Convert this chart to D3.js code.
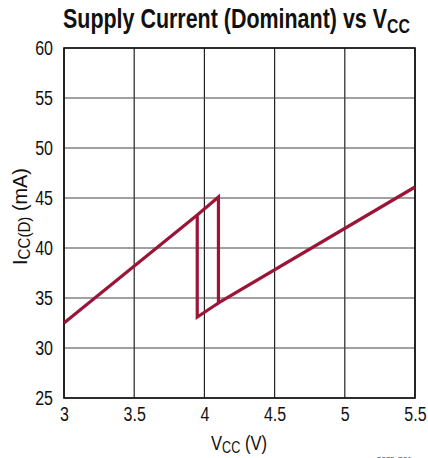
<!DOCTYPE html>
<html>
<head>
<meta charset="utf-8">
<script src="https://cdn.jsdelivr.net/npm/d3@7"></script>
<style>
  body { margin: 0; background: #fff; }
  svg { display: block; }
</style>
</head>
<body>
<script>
// rising sweep: upper branch, jump down at 4.1 V, then lower branch
const vUp = [3.0, 3.949, 4.10, 4.10, 5.5];
const iUp = [32.5, 43.3, 45.1, 34.5, 46.1];
// falling sweep back down: lower branch, jump up at 3.95 V
const vDown = [4.10, 3.949, 3.949];
const iDown = [34.5, 33.1, 43.3];

const xTicks = [3, 3.5, 4, 4.5, 5, 5.5];
const yTicks = [25, 30, 35, 40, 45, 50, 55, 60];

const width = 428;
const height = 458;
const margin = { top: 48, right: 13, bottom: 60, left: 64 };
const font = "'Liberation Sans', Arial, sans-serif";
const red = "#9b1538";
const squeeze = 0.8; // fake a narrow face

const x = d3.scaleLinear().domain([3, 5.5]).range([margin.left, width - margin.right]);
const y = d3.scaleLinear().domain([25, 60]).range([height - margin.bottom, margin.top]);

const svg = d3.select("body").append("svg")
    .attr("width", width)
    .attr("height", height)
    .style("font-family", font);

// grid
svg.append("g")
    .selectAll("line")
    .data(xTicks)
    .join("line")
    .attr("x1", d => x(d)).attr("x2", d => x(d))
    .attr("y1", y(25)).attr("y2", y(60))
    .attr("stroke", "#222")
    .attr("stroke-width", 1.2);

svg.append("g")
    .selectAll("line")
    .data(yTicks)
    .join("line")
    .attr("x1", x(3)).attr("x2", x(5.5))
    .attr("y1", d => y(d)).attr("y2", d => y(d))
    .attr("stroke", "#444")
    .attr("stroke-width", 1.2);

svg.append("rect")
    .attr("x", x(3)).attr("y", y(60))
    .attr("width", x(5.5) - x(3)).attr("height", y(25) - y(60))
    .attr("fill", "none")
    .attr("stroke", "#111")
    .attr("stroke-width", 1.6);

// tick labels only
const xAxis = d3.axisBottom(x).tickValues(xTicks).tickSize(0).tickPadding(9).tickFormat(d3.format("~g"));
const yAxis = d3.axisLeft(y).tickValues(yTicks).tickSize(0).tickPadding(11);

svg.append("g")
    .attr("transform", `translate(0,${y(25)})`)
    .call(xAxis)
    .call(g => g.select(".domain").remove())
    .selectAll("text")
    .style("font-family", font)
    .style("font-size", "20px")
    .attr("fill", "#111")
    .attr("transform", `scale(${squeeze},1)`);

svg.append("g")
    .attr("transform", `translate(${x(3)},0)`)
    .call(yAxis)
    .call(g => g.select(".domain").remove())
    .selectAll("text")
    .style("font-family", font)
    .style("font-size", "20px")
    .attr("fill", "#111")
    .attr("x", -11 / squeeze)
    .attr("transform", `scale(${squeeze},1)`);

// data
const line = d3.line().x(d => x(d[0])).y(d => y(d[1]));
[[vUp, iUp], [vDown, iDown]].forEach(([vs, is]) => {
    svg.append("path")
        .datum(vs.map((v, k) => [v, is[k]]))
        .attr("d", line)
        .attr("fill", "none")
        .attr("stroke", red)
        .attr("stroke-width", 3.2)
        .attr("stroke-linejoin", "miter");
});

// title, squeezed horizontally to look like a condensed face
const titleG = svg.append("g");
const title = titleG.append("text")
    .attr("x", 0).attr("y", 28)
    .style("font-size", "27px")
    .style("font-weight", "bold")
    .attr("fill", "#111");
title.append("tspan").text("Supply Current (Dominant) vs V");
title.append("tspan").attr("dy", 5).style("font-size", "20px").text("CC");
const tw = title.node().getComputedTextLength();
titleG.attr("transform", `translate(63,0) scale(${347 / tw},1)`);

// x title
const xtG = svg.append("g");
const xt = xtG.append("text")
    .attr("x", 0).attr("y", 450)
    .style("font-size", "21px")
    .attr("fill", "#111");
xt.append("tspan").text("V");
xt.append("tspan").attr("dy", 3).style("font-size", "16px").text("CC");
xt.append("tspan").attr("dy", -3).text(" (V)");
const xw = xt.node().getComputedTextLength();
xtG.attr("transform", `translate(211,0) scale(${56 / xw},1)`);

// y title
const ytG = svg.append("g");
const yt = ytG.append("text")
    .attr("x", 0).attr("y", 0)
    .style("font-size", "21px")
    .attr("fill", "#111");
yt.append("tspan").text("I");
yt.append("tspan").attr("dy", 3).style("font-size", "16px").text("CC(D)");
yt.append("tspan").attr("dy", -3).text(" (mA)");
const yw = yt.node().getComputedTextLength();
ytG.attr("transform", `translate(27,265) rotate(-90) scale(${97 / yw},1)`);

// figure code, cut off at the bottom edge as in the source
svg.append("text")
    .attr("x", 412).attr("y", 462)
    .attr("text-anchor", "end")
    .style("font-size", "8px")
    .attr("fill", "#444")
    .text("2875 G01");
</script>
</body>
</html>
